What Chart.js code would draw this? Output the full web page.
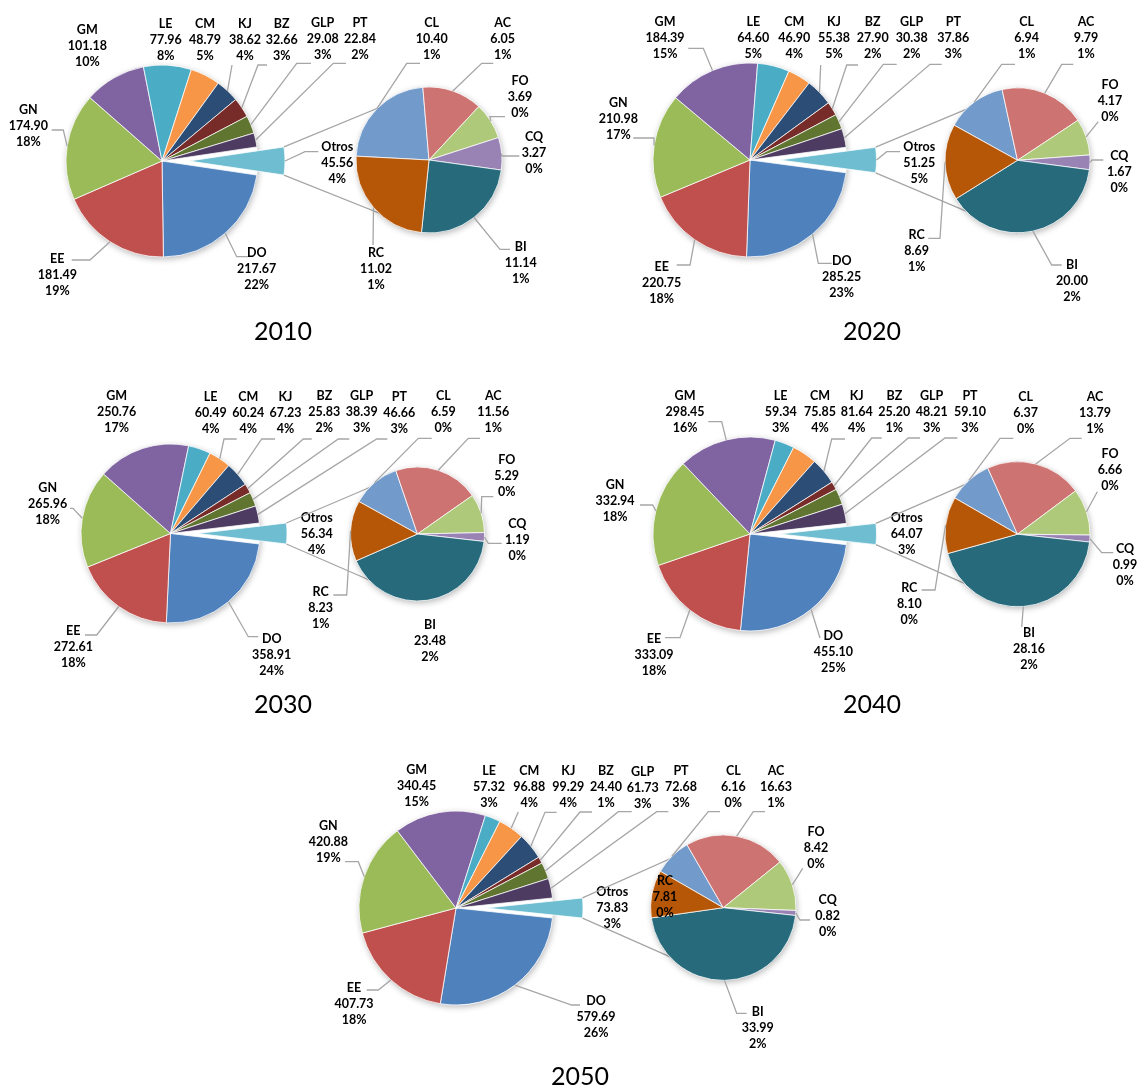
<!DOCTYPE html>
<html>
<head>
<meta charset="utf-8">
<script src="https://cdn.jsdelivr.net/npm/chart.js@4.4.1/dist/chart.umd.min.js"></script>
<style>
  html, body { margin: 0; background: #fff; }
  #wrap { position: relative; width: 1138px; height: 1088px; overflow: hidden; }
  #wrap canvas { position: absolute; left: 0; top: 0; }
  .year { position: absolute; font: 25px Lato, "Open Sans", sans-serif; line-height: 30px; color: #000; transform: translateX(-50%); white-space: nowrap; }
</style>
</head>
<body>
<div id="wrap"></div>
<script>
const W = 1138, H = 1088;

// categorias
const mainCats = ['DO', 'EE', 'GN', 'GM', 'LE', 'CM', 'KJ', 'BZ', 'GLP', 'PT', 'Otros'];
const subCats = ['CL', 'AC', 'FO', 'CQ', 'BI', 'RC'];

// valores por año (pastel principal, Otros al final)
const main2010 = [217.67, 181.49, 174.90, 101.18, 77.96, 48.79, 38.62, 32.66, 29.08, 22.84, 45.56];
const main2020 = [285.25, 220.75, 210.98, 184.39, 64.60, 46.90, 55.38, 27.90, 30.38, 37.86, 51.25];
const main2030 = [358.91, 272.61, 265.96, 250.76, 60.49, 60.24, 67.23, 25.83, 38.39, 46.66, 56.34];
const main2040 = [455.10, 333.09, 332.94, 298.45, 59.34, 75.85, 81.64, 25.20, 48.21, 59.10, 64.07];
const main2050 = [579.69, 407.73, 420.88, 340.45, 57.32, 96.88, 99.29, 24.40, 61.73, 72.68, 73.83];

// desglose de Otros
const sub2010 = [10.40, 6.05, 3.69, 3.27, 11.14, 11.02];
const sub2020 = [6.94, 9.79, 4.17, 1.67, 20.00, 8.69];
const sub2030 = [6.59, 11.56, 5.29, 1.19, 23.48, 8.23];
const sub2040 = [6.37, 13.79, 6.66, 0.99, 28.16, 8.10];
const sub2050 = [6.16, 16.63, 8.42, 0.82, 33.99, 7.81];

const mainColors = ['#4F81BD', '#C0504D', '#9BBB59', '#8064A2', '#4BACC6', '#F79646',
                    '#2C4D75', '#772C2A', '#5F7530', '#4D3B62', '#6FBDD1'];
const subColors = ['#729ACA', '#CD7371', '#AFC97A', '#9983B5', '#276A7C', '#B65708'];

const LINE = '#A6A6A6';
const FONT = 'bold 12.5px Lato, "Open Sans", sans-serif';
const LH = 16;

// layout of each panel: pie centres, radii and label placement
const panels = [
  {
    year: '2010', main: main2010, sub: sub2010,
    center: [162, 161], radius: 96, explode: 27,
    subCenter: [429, 160], subRadius: 73, subStart: 273,
    titleAt: [283, 330],
    mainText: [[256.7, 269], [57.3, 275], [28.3, 126], [87.3, 45.7], [165.7, 40], [205, 40],
               [245, 40], [281.7, 40], [322.7, 39], [360, 39], [337.3, 163.3]],
    mainLead: [[236.7, 256.7, 248.3], [90, 260, 71.7], [63.3, 130, 51.7], null, null, null,
               [232, 65, 232], [258, 65, 267], [296.7, 63.3, 311], [333.3, 63.3, 346], [305, 151.7, 318.3]],
    subText: [[431.7, 39.3], [502.7, 39.3], [520, 96.7], [534, 152.7], [520.7, 263.3], [376, 269.3]],
    subLead: [[406.7, 63.3, 420], [481.7, 63.3, 493.3], [490, 116.7, 505], [501.7, 156, 519.3],
              [500, 249.3, 510], [373, 245, 373]]
  },
  {
    year: '2020', main: main2020, sub: sub2020,
    center: [750, 160], radius: 97, explode: 29.5,
    subCenter: [1017.5, 160.3], subRadius: 72.5, subStart: 299,
    titleAt: [872, 330],
    mainText: [[841.7, 276.7], [661.7, 283.3], [618.3, 119.3], [665, 37.7], [753.3, 37.7], [794.3, 37.7],
               [834, 37.7], [872.7, 38.3], [911.7, 38.3], [953.3, 38.3], [919.3, 163.3]],
    mainLead: [[818.3, 263.3, 831.7], [690, 265, 676.7], [654, 138, 633.3], [703.3, 48.3, 688.3], null, null,
               [820.7, 65, 820.7], [846.7, 65, 858], [883.3, 64.3, 896.7], [930, 64.3, 941.7], [886.7, 151.7, 900]],
    subText: [[1026.7, 38.3], [1086, 38.3], [1110, 101], [1119.3, 171.7], [1072, 281], [916.7, 250.7]],
    subLead: [[1001.7, 64.3, 1015], [1061.7, 64.3, 1073.3], [1098.3, 121.7, 1098.3], [1092, 160, 1103.3],
              [1051.7, 265, 1061.7], [940, 238.3, 928.3]]
  },
  {
    year: '2030', main: main2030, sub: sub2030,
    center: [170.5, 533.5], radius: 89.5, explode: 27,
    subCenter: [417.5, 534], subRadius: 67, subStart: 299,
    titleAt: [283, 703],
    mainText: [[271.7, 655], [73.3, 647.3], [47.7, 504], [116.7, 412.3], [210.7, 413.3], [248.3, 413.3],
               [285.5, 413.3], [324.3, 412.3], [361.7, 412.3], [399.3, 413.3], [316.7, 534]],
    mainLead: [[248.3, 636.7, 258.3], [96.7, 635, 85], [73, 508.3, 70], null, null, [224, 439, 236.7],
               [261.7, 439, 275], [303.3, 439, 311.7], [338.3, 439, 349.3], [376.7, 439, 387.3], null],
    subText: [[443.3, 411.7], [493.3, 411.7], [506.7, 476], [517.3, 540], [430, 641], [320.7, 608.3]],
    subLead: [[418.3, 438.3, 431.7], [468.3, 438.3, 480], [481.7, 496.7, 493.3], [488.3, 543.3, 501.7],
              null, [346.7, 595, 333.3]]
  },
  {
    year: '2040', main: main2040, sub: sub2040,
    center: [750, 534], radius: 97, explode: 29.5,
    subCenter: [1017.5, 534.2], subRadius: 72.5, subStart: 300,
    titleAt: [872, 703],
    mainText: [[833.3, 652.3], [654, 655], [615, 501], [685, 412.3], [780.7, 412.3], [820, 412.3],
               [856.7, 412.3], [894.3, 411.7], [931.7, 411.7], [970, 411.7], [906.7, 534]],
    mainLead: [[820, 638, 820], [680, 637.7, 665], [652.7, 505, 640], [721.7, 421.7, 708.3], null, null,
               [831.7, 439, 845], [871.7, 438, 881.7], [908.3, 438, 920], [945, 438, 957.3], null],
    subText: [[1025.7, 412.7], [1095, 413.3], [1110, 470], [1125, 565], [1029, 649], [909.3, 604.3]],
    subLead: [[1000, 438.3, 1013.3], [1070, 438.3, 1081.7], [1097.3, 491.7, 1097.3], [1101.7, 552.7, 1113.3],
              [1021.7, 627, 1021.7], [935, 590, 921.7]]
  },
  {
    year: '2050', main: main2050, sub: sub2050,
    center: [456, 908], radius: 97, explode: 30,
    subCenter: [723.3, 907.7], subRadius: 72.7, subStart: 300,
    titleAt: [580, 1075],
    mainText: [[596, 1016.7], [354, 1004], [328.3, 841.7], [416.7, 786], [489, 786.7], [529.3, 786.7],
               [568.3, 786.7], [606, 786.7], [642.7, 787.5], [681, 786.5], [612.3, 908.3]],
    mainLead: [[571.7, 1005, 580], [378.3, 990, 366.7], [358.3, 861.7, 345], null, null, [518.3, 812, 518.3],
               [545, 812.3, 556.7], [580, 812, 592], [618.3, 811.7, 631.7], [656.7, 811.7, 668.3], null],
    subText: [[733.3, 786.7], [776, 786.7], [816, 847.7], [827.7, 916], [757.7, 1028.3], [665, 896.7]],
    subLead: [[708.3, 811.7, 720], [753.3, 811.7, 765], [802.7, 868.3, 802.7], [800, 920, 810],
              [736.7, 1013.3, 746.7], null]
  }
];

const wrap = document.getElementById('wrap');

function newCanvas() {
  const c = document.createElement('canvas');
  c.width = W;
  c.height = H;
  wrap.appendChild(c);
  return c;
}

// place the chart area (and so the pie centre) on a given point
function padFor(c) {
  return { left: c[0] - 5, right: W - c[0] - 5, top: c[1] - 5, bottom: H - c[1] - 5 };
}

const sum = (arr) => arr.reduce((a, b) => a + b, 0);

function labelPlugin(names, values, pcts, textPos, leads) {
  return {
    id: 'sliceLabels',
    afterDatasetsDraw(chart) {
      const ctx = chart.ctx;
      const arcs = chart.getDatasetMeta(0).data;
      ctx.save();
      ctx.font = FONT;
      arcs.forEach((arc, i) => {
        const lead = leads[i];
        if (lead) {
          const mid = (arc.startAngle + arc.endAngle) / 2;
          const px = arc.x + arc.outerRadius * Math.cos(mid);
          const py = arc.y + arc.outerRadius * Math.sin(mid);
          ctx.strokeStyle = LINE;
          ctx.lineWidth = 1.3;
          ctx.beginPath();
          ctx.moveTo(px, py);
          ctx.lineTo(lead[0], lead[1]);
          ctx.lineTo(lead[2], lead[1]);
          ctx.stroke();
        }
        const lines = [names[i], values[i].toFixed(2), pcts[i] + '%'];
        ctx.fillStyle = '#000';
        ctx.textAlign = 'center';
        ctx.textBaseline = 'middle';
        lines.forEach((t, k) => ctx.fillText(t, textPos[i][0], textPos[i][1] + (k - 1) * LH));
      });
      ctx.restore();
    }
  };
}

// soft shadow under the pie, like the spreadsheet default
const shadowPlugin = {
  id: 'pieShadow',
  beforeDatasetsDraw(chart) {
    const a = chart.getDatasetMeta(0).data[0];
    const ctx = chart.ctx;
    ctx.save();
    ctx.shadowColor = 'rgba(0,0,0,0.28)';
    ctx.shadowBlur = 6;
    ctx.shadowOffsetX = 1;
    ctx.shadowOffsetY = 2;
    ctx.fillStyle = '#fff';
    ctx.beginPath();
    ctx.arc(a.x, a.y, a.outerRadius, 0, Math.PI * 2);
    ctx.fill();
    ctx.restore();
  }
};

panels.forEach((p) => {
  const total = sum(p.main);
  const otrosIdx = p.main.length - 1;
  const mainPct = p.main.map((v) => Math.round(v / total * 100));
  const subPct = p.sub.map((v) => Math.round(v / total * 100));
  // Otros shows the sum of its rounded parts
  mainPct[otrosIdx] = sum(subPct);
  const otrosDeg = p.main[otrosIdx] / total * 360;

  const explodePlugin = {
    id: 'explodeOtros',
    afterDatasetUpdate(chart, args) {
      const el = args.meta.data[otrosIdx];
      const mid = (el.startAngle + el.endAngle) / 2;
      el.x += p.explode * Math.cos(mid);
      el.y += p.explode * Math.sin(mid);
    }
  };

  const mainChart = new Chart(newCanvas(), {
    type: 'pie',
    data: {
      labels: mainCats,
      datasets: [{
        data: p.main,
        backgroundColor: mainColors,
        borderColor: '#fff',
        borderWidth: 0.75,
        radius: p.radius,
        clip: false
      }]
    },
    options: {
      responsive: false,
      animation: false,
      events: [],
      rotation: 90 + otrosDeg / 2,
      layout: { padding: padFor(p.center) },
      plugins: { legend: { display: false }, tooltip: { enabled: false } }
    },
    plugins: [explodePlugin, shadowPlugin, labelPlugin(mainCats, p.main, mainPct, p.mainText, p.mainLead)]
  });

  const connectorPlugin = {
    id: 'seriesLines',
    beforeDatasetsDraw(chart) {
      const o = mainChart.getDatasetMeta(0).data[otrosIdx];
      const hub = chart.getDatasetMeta(0).data[0];
      const e1 = [o.x + o.outerRadius * Math.cos(o.startAngle), o.y + o.outerRadius * Math.sin(o.startAngle)];
      const e2 = [o.x + o.outerRadius * Math.cos(o.endAngle), o.y + o.outerRadius * Math.sin(o.endAngle)];
      const top = e1[1] < e2[1] ? e1 : e2;
      const bot = e1[1] < e2[1] ? e2 : e1;
      const ctx = chart.ctx;
      ctx.save();
      ctx.strokeStyle = LINE;
      ctx.lineWidth = 1.3;
      ctx.beginPath();
      ctx.moveTo(top[0], top[1]);
      ctx.lineTo(hub.x, hub.y - hub.outerRadius);
      ctx.moveTo(bot[0], bot[1]);
      ctx.lineTo(hub.x, hub.y + hub.outerRadius);
      ctx.stroke();
      ctx.restore();
    }
  };

  new Chart(newCanvas(), {
    type: 'pie',
    data: {
      labels: subCats,
      datasets: [{
        data: p.sub,
        backgroundColor: subColors,
        borderColor: '#fff',
        borderWidth: 0.75,
        radius: p.subRadius,
        clip: false
      }]
    },
    options: {
      responsive: false,
      animation: false,
      events: [],
      rotation: p.subStart,
      layout: { padding: padFor(p.subCenter) },
      plugins: { legend: { display: false }, tooltip: { enabled: false } }
    },
    plugins: [connectorPlugin, shadowPlugin, labelPlugin(subCats, p.sub, subPct, p.subText, p.subLead)]
  });

  const t = document.createElement('div');
  t.className = 'year';
  t.textContent = p.year;
  t.style.left = p.titleAt[0] + 'px';
  t.style.top = (p.titleAt[1] - 15) + 'px';
  wrap.appendChild(t);
});
</script>
</body>
</html>
